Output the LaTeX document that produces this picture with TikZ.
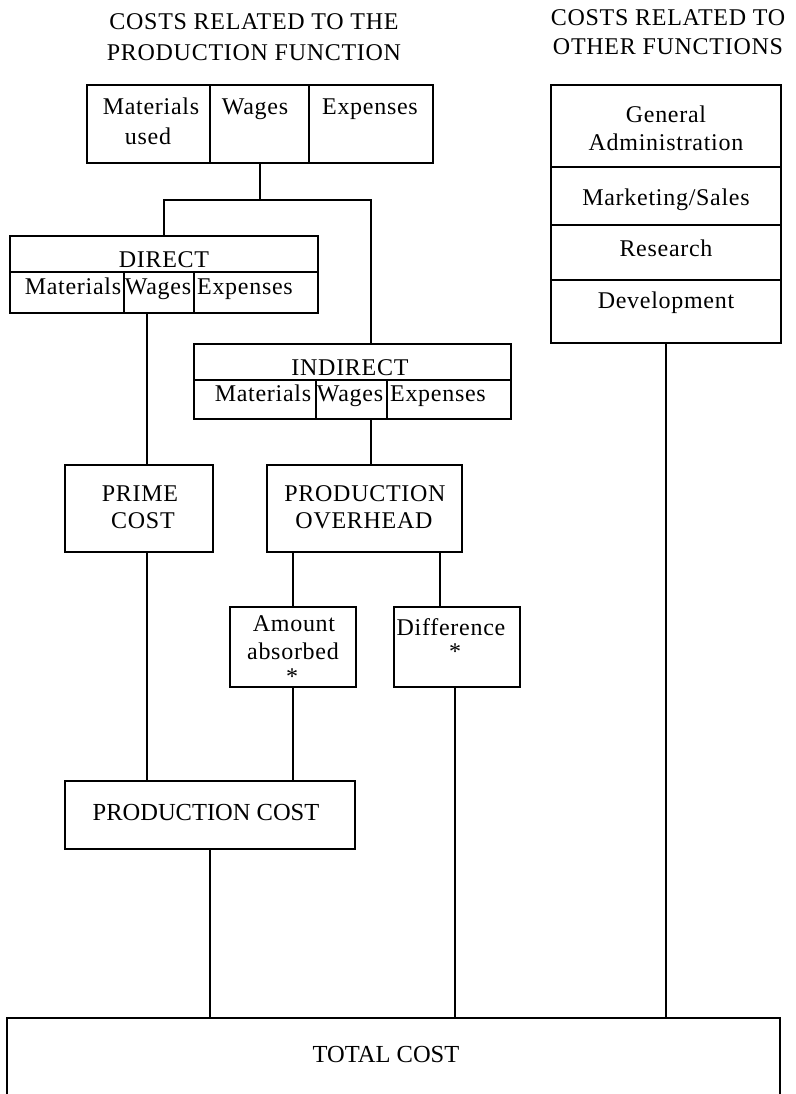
\documentclass[tikz,border=0pt]{standalone}
\usepackage{fontspec}
\setmainfont{Liberation Serif}
\newfontfamily\spacedserif{Liberation Serif}[LetterSpace=3]
\tikzset{
  box/.style={draw, line width=1.8pt, inner sep=0pt},
  conn/.style={line width=1.8pt},
  divider/.style={line width=1.8pt},
  txt/.style={inner sep=0pt, anchor=base, font=\spacedserif\fontsize{24}{28}\selectfont},
  bigtxt/.style={inner sep=0pt, anchor=base, font=\fontsize{24.5}{28}\selectfont},
}
\begin{document}
\begin{tikzpicture}[x=1pt,y=-1pt]
\useasboundingbox (0,0) rectangle (795,1094);
\clip (0,0) rectangle (795,1094);

% titles
\node[txt] (t1a) at (254,30) {COSTS RELATED TO THE};
\node[txt] (t1b) at (254,61) {PRODUCTION FUNCTION};
\node[txt] (t2a) at (668,26) {COSTS RELATED TO};
\node[txt] (t2b) at (668,55) {OTHER FUNCTIONS};

% boxes
\node[box, minimum width=346pt, minimum height=78pt] (top) at (260,124) {};
\node[box, minimum width=230pt, minimum height=258pt] (right) at (666,214) {};
\node[box, minimum width=308pt, minimum height=77pt] (dir) at (164,274.5) {};
\node[box, minimum width=317pt, minimum height=75pt] (ind) at (352.5,381.5) {};
\node[box, minimum width=148pt, minimum height=87pt] (prime) at (139,508.5) {};
\node[box, minimum width=195pt, minimum height=87pt] (po) at (364.5,508.5) {};
\node[box, minimum width=126pt, minimum height=80pt] (amount) at (293,647) {};
\node[box, minimum width=126pt, minimum height=80pt] (diff) at (457,647) {};
\node[box, minimum width=290pt, minimum height=68pt] (prodcost) at (210,815) {};
\node[box, minimum width=773pt, minimum height=102pt] (total) at (393.5,1069) {};

% dividers inside boxes
\draw[divider] (210,85) -- (210,163);
\draw[divider] (309,85) -- (309,163);
\draw[divider] (551,167) -- (781,167);
\draw[divider] (551,225) -- (781,225);
\draw[divider] (551,280) -- (781,280);
\draw[divider] (10,272) -- (318,272);
\draw[divider] (124,272) -- (124,313);
\draw[divider] (194,272) -- (194,313);
\draw[divider] (194,380) -- (511,380);
\draw[divider] (316,380) -- (316,419);
\draw[divider] (387,380) -- (387,419);

% texts
\node[txt] (tm1) at (151,115) {Materials};
\node[txt] (tm2) at (148,145) {used};
\node[txt] (tw) at (255,115) {Wages};
\node[txt] (te) at (370,115) {Expenses};

\node[txt] (rg1) at (666,123) {General};
\node[txt] (rg2) at (666,151) {Administration};
\node[txt] (rm) at (666,205) {Marketing/Sales};
\node[txt] (rr) at (666,256) {Research};
\node[txt] (rd) at (666,308) {Development};

\node[txt] (dt) at (164,267) {DIRECT};
\node[txt] (dm) at (73,294) {Materials};
\node[txt] (dw) at (158,294) {Wages};
\node[txt] (de) at (245,294) {Expenses};

\node[txt] (it) at (350,375) {INDIRECT};
\node[txt] (im) at (263,401) {Materials};
\node[txt] (iw) at (350,401) {Wages};
\node[txt] (ie) at (438,401) {Expenses};

\node[txt] (p1) at (140,501) {PRIME};
\node[txt] (p2) at (143,528) {COST};
\node[txt] (o1) at (365,501) {PRODUCTION};
\node[txt] (o2) at (364,528) {OVERHEAD};

\node[txt] (a1) at (294,631) {Amount};
\node[txt] (a2) at (293,659) {absorbed};
\node[txt] (a3) at (292,684) {*};
\node[txt] (d1) at (451,635) {Difference};
\node[txt] (d2) at (455,659) {*};

\node[bigtxt] (pc) at (206,820) {PRODUCTION COST};
\node[bigtxt] (tc) at (386,1062) {TOTAL COST};

% connectors
\coordinate (jr) at (371,200);
\coordinate (c1) at (147,0);
\coordinate (c2) at (440,0);
\draw[conn] (top.south) -- (top.south |- jr);
\draw[conn] (dir.north) |- (jr) -- (ind.north -| jr);
\draw[conn] (dir.south -| c1) -- (prime.north -| c1);
\draw[conn] (prime.south -| c1) -- (prodcost.north -| c1);
\draw[conn] (ind.south -| jr) -- (po.north -| jr);
\draw[conn] (po.south -| amount.north) -- (amount.north);
\draw[conn] (po.south -| c2) -- (diff.north -| c2);
\draw[conn] (amount.south) -- (prodcost.north -| amount.south);
\draw[conn] (diff.south -| 455,0) -- (total.north -| 455,0);
\draw[conn] (prodcost.south) -- (total.north -| prodcost.south);
\draw[conn] (right.south) -- (total.north -| right.south);
\end{tikzpicture}
\end{document}
